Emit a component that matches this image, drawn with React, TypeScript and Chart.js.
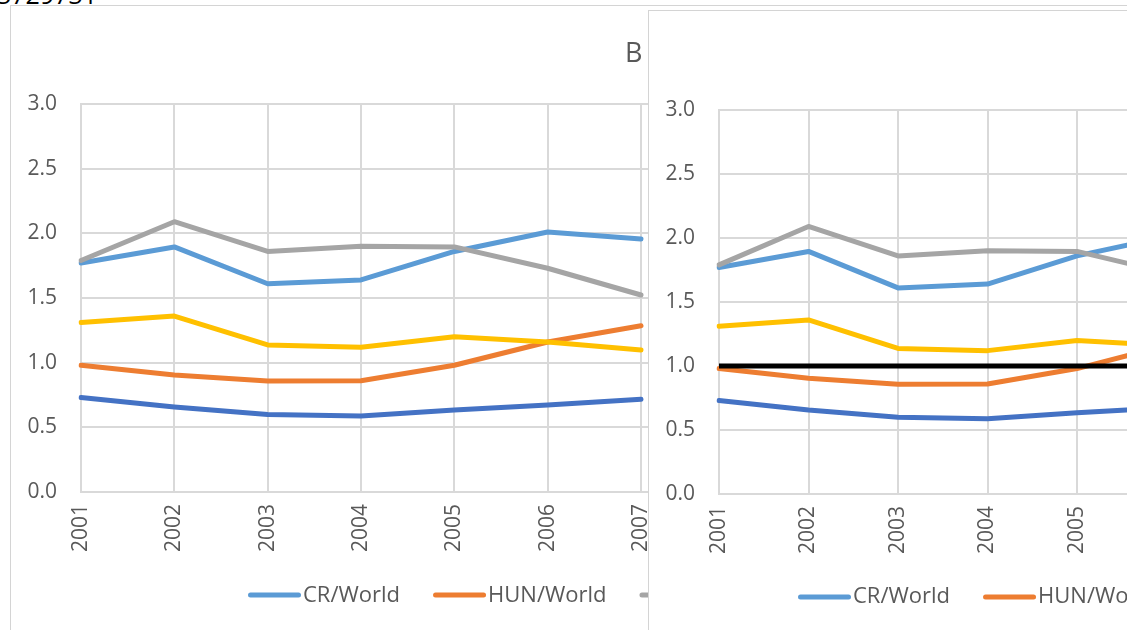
import React, { useEffect, useRef } from "react";
import { Chart, registerables } from "chart.js";

Chart.register(...registerables);

// ---- data ----
const years = ["2001", "2002", "2003", "2004", "2005", "2006", "2007", "2008", "2009", "2010", "2011", "2012", "2013"];
const crWorld = [1.77, 1.895, 1.61, 1.64, 1.86, 2.01, 1.956];
const hunWorld = [0.98, 0.905, 0.858, 0.86, 0.98, 1.16, 1.286];
const plWorld = [1.79, 2.09, 1.86, 1.9, 1.895, 1.73, 1.523];
const skWorld = [1.31, 1.36, 1.137, 1.12, 1.2, 1.16, 1.098];
const v4World = [0.73, 0.657, 0.6, 0.588, 0.634, 0.673, 0.717];
const parityLine = [1, 1, 1, 1, 1, 1, 1];
const seriesNames = ["CR/World", "HUN/World", "PL/World", "SK/World", "V4/World"];
const yTicks = [0, 0.5, 1, 1.5, 2, 2.5, 3];
const leftTitle = "B";
const topCaption = "3729731";

const COLORS = ["#5B9BD5", "#ED7D31", "#A5A5A5", "#FFC000", "#4472C4"];
const FONT = "'Open Sans', sans-serif";
const TEXT = "#595959";
const GRID = "#D9D9D9";

const overlayPlugin = {
  id: "overlay",
  afterDraw(chart: any, _args: any, opts: any) {
    const ctx = chart.ctx;
    ctx.save();
    if (opts.title) {
      ctx.font = `${opts.title.size}px ${FONT}`;
      ctx.fillStyle = TEXT;
      ctx.textAlign = "left";
      ctx.textBaseline = "alphabetic";
      ctx.fillText(opts.title.text, opts.title.x, opts.title.y);
    }
    if (opts.legend) {
      const lg = opts.legend;
      ctx.font = `${lg.size}px ${FONT}`;
      ctx.textAlign = "left";
      ctx.textBaseline = "alphabetic";
      let cx = lg.x;
      chart.data.datasets.forEach((ds: any) => {
        if (ds.hideInLegend) return;
        ctx.strokeStyle = ds.borderColor;
        ctx.lineWidth = 5;
        ctx.lineCap = "round";
        ctx.beginPath();
        ctx.moveTo(cx + 2.5, lg.lineY);
        ctx.lineTo(cx + lg.sample - 2.5, lg.lineY);
        ctx.stroke();
        ctx.fillStyle = TEXT;
        const tx = cx + lg.sample + lg.gap;
        ctx.fillText(ds.label, tx, lg.textY);
        cx = tx + ctx.measureText(ds.label).width + lg.itemGap;
      });
    }
    ctx.restore();
  },
};

function buildDatasets(withParity: boolean) {
  const series = [crWorld, hunWorld, plWorld, skWorld, v4World];
  const ds: any[] = series.map((d, i) => ({
    label: seriesNames[i],
    data: d,
    borderColor: COLORS[i],
    backgroundColor: COLORS[i],
    borderWidth: 5,
    pointRadius: 0,
    tension: 0,
    borderCapStyle: "round",
    borderJoinStyle: "round",
    order: -i,
  }));
  if (withParity) {
    ds.push({
      label: "1",
      data: parityLine,
      borderColor: "#000000",
      backgroundColor: "#000000",
      borderWidth: 5,
      pointRadius: 0,
      tension: 0,
      order: -10,
      hideInLegend: true,
    });
  }
  return ds;
}

function makeConfig(p: {
  withParity: boolean;
  padding: { top: number; bottom: number; right: number };
  overlay: any;
}) {
  return {
    type: "line",
    data: { labels: years, datasets: buildDatasets(p.withParity) },
    plugins: [overlayPlugin],
    options: {
      responsive: false,
      animation: false,
      events: [],
      layout: { padding: { left: 0, top: p.padding.top, bottom: p.padding.bottom, right: p.padding.right } },
      plugins: {
        legend: { display: false },
        title: { display: false },
        tooltip: { enabled: false },
        overlay: p.overlay,
      },
      scales: {
        x: {
          type: "category",
          offset: false,
          border: { color: GRID, width: 2 },
          grid: { color: GRID, lineWidth: 2, drawTicks: false, offset: false },
          ticks: {
            color: TEXT,
            font: { family: FONT, size: 21 },
            minRotation: 90,
            maxRotation: 90,
            padding: 12,
            autoSkip: false,
          },
          afterFit(scale: any) {
            scale.height = 60;
          },
        },
        y: {
          min: yTicks[0],
          max: yTicks[yTicks.length - 1],
          border: { color: GRID, width: 2 },
          grid: { color: GRID, lineWidth: 2, drawTicks: false },
          ticks: {
            stepSize: yTicks[1] - yTicks[0],
            color: TEXT,
            font: { family: FONT, size: 21 },
            padding: 24,
            callback: (v: any) => Number(v).toFixed(1),
          },
          afterFit(scale: any) {
            scale.width = 70;
          },
        },
      },
    },
  };
}

function ChartCanvas({ width, height, config }: { width: number; height: number; config: any }) {
  const ref = useRef<HTMLCanvasElement | null>(null);
  useEffect(() => {
    if (!ref.current) return;
    const chart = new Chart(ref.current, config);
    return () => chart.destroy();
  }, []);
  return <canvas ref={ref} width={width} height={height} style={{ display: "block", width, height }} />;
}

export default function App() {
  useEffect(() => {
    document.body.style.margin = "0";
  }, []);

  const leftConfig = makeConfig({
    withParity: false,
    padding: { top: 98, bottom: 114, right: 110 },
    overlay: {
      title: { text: leftTitle, x: 614, y: 56, size: 27 },
      legend: { x: 237, lineY: 589, textY: 596, sample: 53, gap: 2, itemGap: 33, size: 22 },
    },
  });
  const rightConfig = makeConfig({
    withParity: true,
    padding: { top: 99, bottom: 117, right: 56 },
    overlay: {
      legend: { x: 149, lineY: 586, textY: 592, sample: 53, gap: 2, itemGap: 33, size: 22 },
    },
  });

  return (
    <div
      style={{
        position: "fixed",
        left: 0,
        top: 0,
        width: 1143,
        height: 630,
        background: "#ffffff",
      }}
    >
      <div
        style={{
          position: "absolute",
          left: 0,
          top: 0,
          width: 1127,
          height: 630,
          overflow: "hidden",
          background: "#ffffff",
        }}
      >
        <div
          style={{
            position: "absolute",
            left: -3,
            top: -16,
            fontFamily: FONT,
            fontSize: 25,
            lineHeight: "20px",
            color: "#000000",
            whiteSpace: "nowrap",
          }}
        >
          {topCaption}
        </div>
        <div
          style={{
            position: "absolute",
            left: 10,
            top: 5,
            border: "1px solid #D4D4D4",
            background: "#ffffff",
          }}
        >
          <ChartCanvas width={1300} height={660} config={leftConfig} />
        </div>
        <div
          style={{
            position: "absolute",
            left: 648,
            top: 10,
            border: "1px solid #D4D4D4",
            background: "#ffffff",
          }}
        >
          <ChartCanvas width={1200} height={660} config={rightConfig} />
        </div>
      </div>
    </div>
  );
}
